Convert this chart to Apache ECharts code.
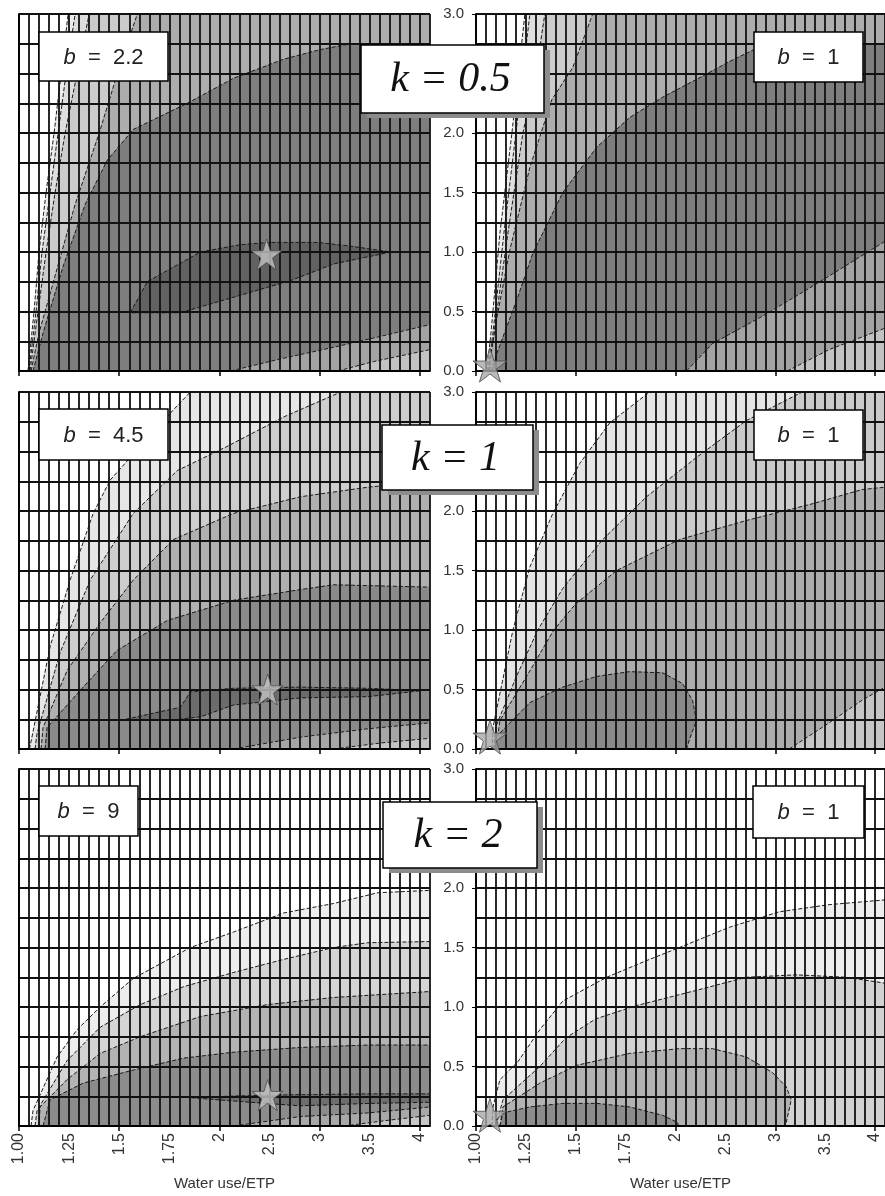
<!DOCTYPE html>
<html><head><meta charset="utf-8">
<script src="https://cdn.jsdelivr.net/npm/echarts@6/dist/echarts.min.js"></script>
<style>html,body{margin:0;padding:0;background:#fff}#c{width:885px;height:1196px}</style>
</head><body><div id="c"></div>
<script>
// ---------- axis data ----------
const xCategories = [1.00,1.05,1.10,1.15,1.20,1.25,1.30,1.35,1.40,1.45,1.50,1.55,1.60,1.65,1.70,1.75,1.80,1.85,1.90,1.95,2.00,
  2.1,2.2,2.3,2.4,2.5,2.6,2.7,2.8,2.9,3.0,3.1,3.2,3.3,3.4,3.5,3.6,3.7,3.8,3.9,4.0,4.1];
const xTickLabels = ['1.00','1.25','1.5','1.75','2','2.5','3','3.5','4'];
const yTickLabels = ['0.0','0.5','1.0','1.5','2.0','2.5','3.0'];
const bValues = ['2.2','1','4.5','1','9','1'];
const kValues = ['0.5','1','2'];
const xTitle = 'Water use/ETP';

// ---------- optimum (star) points [ETP ratio, y] ----------
const optimumTL = [2.47, 0.98];
const optimumTR = [1.07, 0.05];
const optimumML = [2.48, 0.50];
const optimumMR = [1.07, 0.10];
const optimumBL = [2.48, 0.26];
const optimumBR = [1.07, 0.09];

// ---------- contour boundaries, k = 0.5, b = 2.2 ----------
const tlA = [[1.045,0],[1.075,0.5],[1.10,1.0],[1.135,1.5],[1.175,2.0],[1.21,2.5],[1.245,3.0]];
const tlB = [[1.05,0],[1.085,0.5],[1.115,1.0],[1.155,1.5],[1.195,2.0],[1.235,2.5],[1.28,3.0]];
const tlC = [[1.055,0],[1.095,0.5],[1.135,1.0],[1.18,1.5],[1.23,2.0],[1.29,2.5],[1.35,3.0]];
const tlD = [[1.06,0],[1.10,0.32],[1.18,0.8],[1.28,1.40],[1.40,2.0],[1.50,2.55],[1.59,3.0]];
const tlE = [[1.07,0],[1.12,0.32],[1.22,0.88],[1.33,1.40],[1.44,1.77],[1.57,2.03],[1.84,2.25],[2.14,2.46],[2.64,2.62],[3.0,2.70],[3.31,2.75],[4.1,2.75]];
const tlLens = [[1.555,0.49],[1.64,0.75],[1.905,1.0],[2.2,1.06],[2.48,1.08],[2.98,1.08],[3.3,1.05],[3.71,1.0],[3.14,0.9],[2.71,0.76],[2.14,0.62],[1.805,0.49]];
const tlF = [[2.11,0],[2.6,0.1],[3.14,0.2],[3.6,0.29],[4.1,0.39]];
const tlG = [[3.18,0],[3.54,0.08],[4.1,0.18]];

// ---------- k = 0.5, b = 1 ----------
const trA = [[1.055,0],[1.075,0.32],[1.12,1.16],[1.18,2.0],[1.245,3.0]];
const trB = [[1.06,0],[1.085,0.32],[1.14,1.16],[1.20,2.0],[1.27,3.0]];
const trC = [[1.065,0],[1.09,0.32],[1.16,1.16],[1.235,2.0],[1.30,2.5],[1.345,3.0]];
const trD = [[1.07,0],[1.07,0.09],[1.105,0.45],[1.17,1.02],[1.27,1.71],[1.38,2.28],[1.485,2.55],[1.585,3.0]];
const trE = [[1.08,0],[1.105,0.15],[1.205,0.6],[1.285,0.99],[1.435,1.5],[1.605,1.88],[1.77,2.13],[1.935,2.3],[2.21,2.45],[2.54,2.6],[2.71,2.67],[2.91,2.75],[4.1,2.75]];
const trF = [[2.11,0],[2.37,0.23],[2.87,0.46],[3.37,0.71],[4.1,1.09]];
const trG = [[3.12,0],[3.54,0.18],[4.1,0.36]];

// ---------- k = 1, b = 4.5 ----------
const mlA = [[1.05,0],[1.055,0.02],[1.155,0.86],[1.255,1.42],[1.37,1.98],[1.455,2.26],[1.555,2.45],[1.77,2.85],[1.855,3.0]];
const mlB = [[1.08,0],[1.09,0.13],[1.205,0.81],[1.355,1.42],[1.57,1.98],[1.79,2.34],[2.07,2.54],[2.64,2.79],[3.21,3.0]];
const mlC = [[1.11,0],[1.12,0.18],[1.24,0.66],[1.405,1.06],[1.57,1.42],[1.77,1.76],[2.14,1.98],[2.81,2.12],[3.48,2.2],[4.1,2.25]];
const mlD = [[1.13,0],[1.14,0.18],[1.32,0.52],[1.49,0.83],[1.74,1.08],[2.14,1.25],[2.81,1.34],[3.14,1.38],[4.1,1.36]];
const mlLens = [[1.505,0.24],[1.805,0.35],[1.855,0.48],[2.14,0.51],[2.81,0.52],[3.48,0.51],[4.01,0.49],[3.48,0.44],[2.81,0.43],[2.14,0.37],[1.905,0.27],[1.74,0.24]];
const mlF = [[2.14,0],[2.81,0.1],[3.48,0.17],[4.1,0.22]];
const mlG = [[3.14,0],[3.6,0.05],[4.1,0.09]];

// ---------- k = 1, b = 1 ----------
const mrA = [[1.08,0],[1.085,0.18],[1.185,1.0],[1.27,1.53],[1.385,1.98],[1.52,2.4],[1.67,2.74],[1.87,3.0]];
const mrB = [[1.09,0],[1.10,0.19],[1.2,0.6],[1.31,1.0],[1.435,1.35],[1.635,1.76],[1.855,2.12],[2.21,2.45],[2.71,2.76],[3.27,3.0]];
const mrC = [[1.10,0],[1.12,0.24],[1.25,0.6],[1.39,1.0],[1.5,1.22],[1.705,1.5],[2.04,1.76],[2.71,1.92],[3.37,2.06],[3.87,2.18],[4.1,2.2]];
const mrDome = [[1.09,0],[1.10,0.1],[1.27,0.39],[1.435,0.52],[1.605,0.61],[1.77,0.65],[1.935,0.64],[2.07,0.55],[2.17,0.41],[2.21,0.24],[2.14,0.08],[2.11,0]];
const mrF = [[3.14,0],[3.54,0.22],[3.87,0.41],[4.1,0.52]];

// ---------- k = 2, b = 9 ----------
const blA = [[1.06,0],[1.07,0.13],[1.19,0.58],[1.29,0.81],[1.405,1.0],[1.57,1.24],[1.855,1.5],[2.14,1.63],[2.64,1.79],[3.14,1.87],[3.58,1.96],[4.1,1.98]];
const blB = [[1.08,0],[1.09,0.13],[1.24,0.55],[1.405,0.83],[1.605,1.02],[1.82,1.17],[2.14,1.29],[2.64,1.4],[3.14,1.5],[3.48,1.54],[4.1,1.55]];
const blC = [[1.10,0],[1.105,0.16],[1.24,0.39],[1.405,0.61],[1.605,0.75],[1.905,0.92],[2.48,1.02],[3.14,1.08],[4.1,1.13]];
const blD = [[1.12,0],[1.155,0.22],[1.32,0.36],[1.57,0.47],[1.82,0.57],[2.14,0.62],[2.81,0.66],[3.48,0.68],[4.1,0.68]];
const blLens = [[1.84,0.24],[2.5,0.26],[3.5,0.27],[4.1,0.27],[4.1,0.2],[3.5,0.19],[2.8,0.17],[2.3,0.2]];
const blF = [[2.14,0],[2.81,0.08],[3.48,0.11],[4.1,0.16]];
const blG = [[3.24,0],[3.7,0.05],[4.1,0.09]];

// ---------- k = 2, b = 1 ----------
const brA = [[1.08,0],[1.085,0.16],[1.12,0.39],[1.21,0.54],[1.32,0.81],[1.435,1.05],[1.655,1.25],[1.855,1.39],[2.04,1.5],[2.54,1.67],[3.04,1.8],[3.54,1.86],[4.1,1.9]];
const brB = [[1.10,0],[1.135,0.22],[1.32,0.5],[1.45,0.74],[1.6,0.9],[1.8,1.01],[2.21,1.14],[2.71,1.25],[3.21,1.27],[3.71,1.25],[4.1,1.2]];
const brDome1 = [[1.12,0],[1.135,0.16],[1.32,0.36],[1.505,0.51],[1.77,0.61],[2.04,0.65],[2.37,0.65],[2.71,0.58],[2.97,0.45],[3.11,0.33],[3.16,0.22],[3.11,0.03],[3.10,0]];
const brDome2 = [[1.12,0],[1.135,0.11],[1.27,0.16],[1.435,0.19],[1.605,0.19],[1.77,0.16],[1.935,0.09],[2.02,0.03],[2.03,0]];

// ---------- helpers ----------
const X_MAX = xCategories[xCategories.length - 1];
function toPos(e) {
  for (let i = 0; i < xCategories.length - 1; i++) {
    if (e <= xCategories[i + 1]) return i + (e - xCategories[i]) / (xCategories[i + 1] - xCategories[i]);
  }
  return xCategories.length - 1;
}

// styles kept separate from the data
const panels = [
  { layers: [[tlA,'#ececec','band'],[tlB,'#dedede','band'],[tlC,'#cbcbcb','band'],[tlD,'#adadad','band'],[tlE,'#7e7e7e','band'],[tlLens,'#626262','closed'],[tlF,'#a3a3a3','band'],[tlG,'#c2c2c2','band']], star: optimumTL },
  { layers: [[trA,'#ececec','band'],[trB,'#dedede','band'],[trC,'#cbcbcb','band'],[trD,'#adadad','band'],[trE,'#7e7e7e','band'],[trF,'#a3a3a3','band'],[trG,'#c2c2c2','band']], star: optimumTR },
  { layers: [[mlA,'#e6e6e6','band'],[mlB,'#cdcdcd','band'],[mlC,'#b0b0b0','band'],[mlD,'#8a8a8a','band'],[mlLens,'#6c6c6c','closed'],[mlF,'#a6a6a6','band'],[mlG,'#c4c4c4','band']], star: optimumML },
  { layers: [[mrA,'#e4e4e4','band'],[mrB,'#cacaca','band'],[mrC,'#acacac','band'],[mrDome,'#8a8a8a','open'],[mrF,'#c6c6c6','band']], star: optimumMR },
  { layers: [[blA,'#ededed','band'],[blB,'#d4d4d4','band'],[blC,'#b3b3b3','band'],[blD,'#8c8c8c','band'],[blLens,'#6e6e6e','closed'],[blF,'#a8a8a8','band'],[blG,'#c6c6c6','band']], star: optimumBL },
  { layers: [[brA,'#ededed','band'],[brB,'#d2d2d2','band'],[brDome1,'#b2b2b2','open'],[brDome2,'#8c8c8c','open']], star: optimumBR }
];

const gridPos = [[19,14],[476,14],[19,392],[476,392],[19,769],[476,769]];
const GW = 411, GH = 357;
const FONT = 'Liberation Sans, Arial, sans-serif';
const GRID_LINE = { color: '#111', width: 1.8 };

function makeRender(layers) {
  return function (params, api) {
    const L = layers[params.dataIndex];
    const data = L[0];
    const pts = data.map(p => api.coord([toPos(p[0]), p[1]]));
    let poly = pts;
    if (L[2] === 'band') {
      const last = data[data.length - 1];
      poly = pts.concat([api.coord([toPos(X_MAX), last[1]]), api.coord([toPos(X_MAX), 0])]);
    }
    const line = L[2] === 'closed' ? pts.concat([pts[0]]) : pts;
    return { type: 'group', children: [
      { type: 'polygon', z2: params.dataIndex * 2, shape: { points: poly }, style: { fill: L[1], stroke: L[1], lineWidth: 0.5 } },
      { type: 'polyline', z2: params.dataIndex * 2 + 1, shape: { points: line }, style: { fill: null, stroke: '#1c1c1c', lineWidth: 1, lineDash: [4, 2] } }
    ]};
  };
}

const grids = [], xAxes = [], yAxes = [], series = [];
const XMAXPOS = xCategories.length - 1;
panels.forEach((p, i) => {
  const right = i % 2 === 1, bottom = i >= 4;
  grids.push({ left: gridPos[i][0], top: gridPos[i][1], width: GW, height: GH });
  // main x axis: grid lines at every category, labels every 5th category
  xAxes.push({
    gridIndex: i, type: 'value', position: 'bottom', min: 0, max: XMAXPOS, interval: 1, z: 5,
    axisLine: { show: true, onZero: false, lineStyle: { color: '#000', width: 1.8 } },
    axisTick: { show: false },
    axisLabel: { show: bottom, rotate: 90, margin: 7, fontSize: 16, color: '#333', fontFamily: FONT, showMinLabel: true, showMaxLabel: true,
      formatter: v => (Math.abs(v % 5) < 1e-6 && v / 5 < xTickLabels.length) ? xTickLabels[Math.round(v / 5)] : '' },
    splitLine: { show: true, lineStyle: GRID_LINE },
    name: bottom ? xTitle : '', nameLocation: 'middle', nameGap: 50,
    nameTextStyle: { fontSize: 15, color: '#333', fontFamily: FONT }
  });
  // tick-only x axis: marks every 10th category
  xAxes.push({
    gridIndex: i, type: 'value', position: 'bottom', min: 0, max: XMAXPOS, z: 5,
    axisLine: { show: false, onZero: false },
    axisTick: { show: true, customValues: [0, 10, 20, 30, 40], length: 5, lineStyle: { color: '#000', width: 1.5 } },
    axisLabel: { show: false }, splitLine: { show: false }
  });
  yAxes.push({
    gridIndex: i, type: 'value', position: 'left', min: 0, max: 3, interval: 0.25, z: 5,
    axisLine: { show: true, lineStyle: { color: '#000', width: 1.8 } },
    axisTick: { show: false },
    axisLabel: { show: right, margin: 12, fontSize: 15, color: '#333', fontFamily: FONT,
      formatter: v => Math.abs(v * 2 - Math.round(v * 2)) < 1e-6 ? yTickLabels[Math.round(v * 2)] : '' },
    splitLine: { show: true, lineStyle: GRID_LINE }
  });
  yAxes.push({
    gridIndex: i, type: 'value', position: 'left', min: 0, max: 3, z: 5,
    axisLine: { show: false },
    axisTick: { show: right, customValues: [0, 0.5, 1, 1.5, 2, 2.5, 3], length: 4, lineStyle: { color: '#000', width: 1 } },
    axisLabel: { show: false }, splitLine: { show: false }
  });
  series.push({
    type: 'custom', xAxisIndex: 2 * i, yAxisIndex: 2 * i, clip: true, silent: true, z: 2,
    renderItem: makeRender(p.layers),
    data: p.layers.map((l, j) => [j, 0]), encode: { x: 0, y: 1 }
  });
  series.push({
    type: 'scatter', xAxisIndex: 2 * i, yAxisIndex: 2 * i, silent: true, z: 10, clip: false,
    symbol: 'path://M50,2 L61.8,38.2 L99.9,38.2 L69.1,60.6 L80.9,96.9 L50,74.5 L19.1,96.9 L30.9,60.6 L0.1,38.2 L38.2,38.2 Z',
    symbolSize: right ? 34 : 31,
    itemStyle: { color: right ? '#a8a8a8' : '#c4c4c4', borderColor: '#4a4a4a', borderWidth: 1 },
    data: [[toPos(p.star[0]), p.star[1]]]
  });
});

// ---------- annotation boxes ----------
const bBoxes = [[39,32,129,49],[754,32,109,50],[39,409,129,51],[754,410,109,50],[39,786,99,50],[753,786,111,52]];
const kBoxes = [[361,45,183,68],[382,425,151,65],[383,802,154,66]];
const graphic = [];
bBoxes.forEach((b, i) => {
  graphic.push({ type: 'rect', z: 50, shape: { x: b[0], y: b[1], width: b[2], height: b[3] },
    style: { fill: '#fff', stroke: '#000', lineWidth: 1.5 } });
  graphic.push({ type: 'text', z: 51, x: b[0] + b[2] / 2, y: b[1] + b[3] / 2 + 1,
    style: { text: '{i|b}  =  ' + bValues[i], fontSize: 22, fontFamily: FONT, fill: '#222', align: 'center', verticalAlign: 'middle',
      rich: { i: { fontStyle: 'italic', fontSize: 22, fontFamily: FONT, fill: '#222' } } } });
});
kBoxes.forEach((b, i) => {
  graphic.push({ type: 'rect', z: 50, shape: { x: b[0] + 6, y: b[1] + 5, width: b[2], height: b[3] },
    style: { fill: '#8c8c8c' } });
  graphic.push({ type: 'rect', z: 51, shape: { x: b[0], y: b[1], width: b[2], height: b[3] },
    style: { fill: '#fff', stroke: '#000', lineWidth: 1.5 } });
  graphic.push({ type: 'text', z: 52, x: b[0] + b[2] / 2 - 2, y: b[1] + b[3] / 2 + 1,
    style: { text: 'k = ' + kValues[i], font: 'italic 42px "Liberation Serif", "Times New Roman", serif', fill: '#111', align: 'center', verticalAlign: 'middle' } });
});

const chart = echarts.init(document.getElementById('c'), null, { renderer: 'canvas' });
chart.setOption({
  animation: false,
  backgroundColor: '#fff',
  grid: grids, xAxis: xAxes, yAxis: yAxes, series: series,
  graphic: graphic
});
</script>
</body></html>
